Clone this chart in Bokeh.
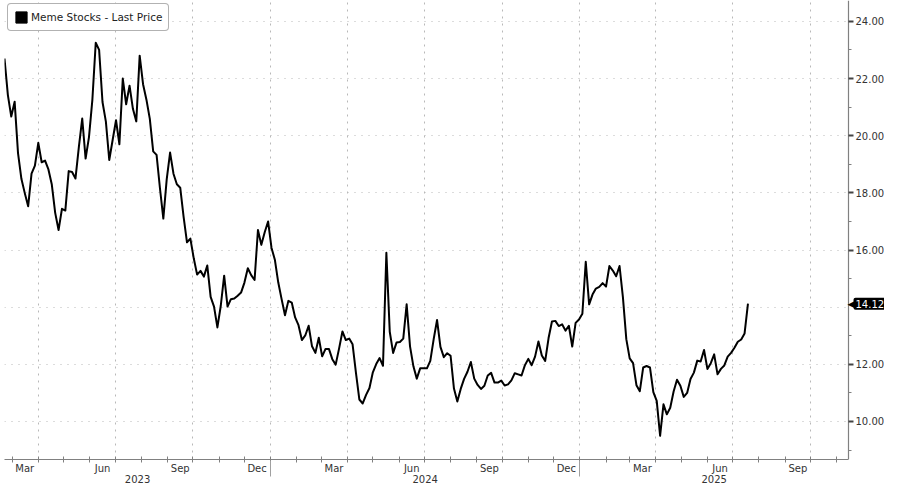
import pandas as pd
from bokeh.plotting import figure
from bokeh.models import (Range1d, LinearAxis, FixedTicker, CustomJSTickFormatter,
                          PrintfTickFormatter, Grid, Label, Legend, LegendItem,
                          BoxAnnotation)
from bokeh.embed import file_html
from bokeh.resources import INLINE

# ---------------- data ----------------
series_name = "Meme Stocks - Last Price"
start_date = "2023-02-20"
step = "4D"
prices = [
    22.70, 21.42, 20.67, 21.19, 19.39, 18.49, 17.99, 17.53, 18.67, 18.95,
    19.75, 19.07, 19.13, 18.82, 18.29, 17.30, 16.70, 17.44, 17.38, 18.76,
    18.73, 18.50, 19.60, 20.60, 19.20, 19.95, 21.25, 23.25, 23.00, 21.18,
    20.49, 19.15, 19.85, 20.54, 19.70, 22.00, 21.10, 21.75, 20.94, 20.50,
    22.80, 21.80, 21.26, 20.59, 19.45, 19.33, 18.16, 17.10, 18.47, 19.41,
    18.67, 18.30, 18.18, 17.16, 16.27, 16.40, 15.71, 15.14, 15.27, 15.07,
    15.46, 14.36, 14.02, 13.29, 14.05, 15.10, 14.02, 14.28, 14.30, 14.40,
    14.51, 14.86, 15.36, 15.12, 14.95, 16.70, 16.18, 16.62, 17.00, 16.08,
    15.66, 14.87, 14.28, 13.72, 14.22, 14.16, 13.64, 13.37, 12.85, 13.01,
    13.35, 12.63, 12.40, 12.93, 12.28, 12.54, 12.54, 12.18, 11.99, 12.55,
    13.15, 12.85, 12.90, 12.70, 11.70, 10.77, 10.63, 10.93, 11.17, 11.72,
    12.01, 12.22, 11.95, 15.90, 13.14, 12.40, 12.76, 12.78, 12.90, 14.10,
    12.63, 11.93, 11.50, 11.86, 11.86, 11.86, 12.12, 12.88, 13.55, 12.61,
    12.25, 12.39, 12.30, 11.15, 10.70, 11.14, 11.49, 11.74, 12.08, 11.50,
    11.28, 11.14, 11.25, 11.61, 11.70, 11.36, 11.36, 11.43, 11.26, 11.30,
    11.44, 11.69, 11.65, 11.61, 11.97, 12.19, 11.97, 12.27, 12.80, 12.31,
    12.12, 12.92, 13.50, 13.52, 13.34, 13.40, 13.18, 13.35, 12.62, 13.45,
    13.57, 13.77, 15.59, 14.10, 14.44, 14.65, 14.71, 14.84, 14.72, 15.44,
    15.28, 15.08, 15.44, 14.34, 12.88, 12.21, 12.04, 11.27, 11.06, 11.89,
    11.94, 11.89, 11.03, 10.72, 9.50, 10.60, 10.25, 10.48, 11.05, 11.46,
    11.25, 10.86, 11.00, 11.49, 11.71, 12.13, 12.10, 12.50, 11.84, 12.04,
    12.35, 11.65, 11.84, 11.96, 12.27, 12.40, 12.58, 12.79, 12.87, 13.08,
    14.12,
]
last_price_label = "14.12"

x_start = "2023-02-20"
x_axis_date = "2025-11-15"      # where the price axis sits
y_start, y_end = 8.67, 24.73
y_tick_values = [10, 12, 16, 18, 20, 22, 24]
y_minor_values = [9, 11, 13, 15, 17, 19, 21, 23]
y_grid_values = [10, 12, 14, 16, 18, 20, 22, 24]

month_label_dates = ["2023-03-16", "2023-06-16", "2023-09-16", "2023-12-16",
                     "2024-03-16", "2024-06-16", "2024-09-16", "2024-12-16",
                     "2025-03-16", "2025-06-16", "2025-09-16"]
month_labels = ["Mar", "Jun", "Sep", "Dec", "Mar", "Jun", "Sep", "Dec",
                "Mar", "Jun", "Sep"]
quarter_grid_dates = ["2023-04-01", "2023-07-01", "2023-10-01", "2024-01-01",
                      "2024-04-01", "2024-07-01", "2024-10-01", "2025-01-01",
                      "2025-04-01", "2025-07-01", "2025-10-01"]
years = [2023, 2024, 2025]
year_labels = ["2023", "2024", "2025"]


def ms(d):
    return int((pd.Timestamp(d) - pd.Timestamp("1970-01-01")) // pd.Timedelta("1ms"))


W, H = 884, 485
LEFT = 4                          # frame starts 4px in
AXIS_PX = 844                     # price-axis position measured from the frame's left edge
FRAME_W = W - LEFT

dates = pd.date_range(start_date, periods=len(prices), freq=step)
month_starts = [ms(d) for d in pd.date_range("2023-03-01", "2025-11-01", freq="MS")]
x0, x1 = ms(x_start), ms(x_axis_date)
x_view_end = x0 + (x1 - x0) * FRAME_W / AXIS_PX
year_centers = []
for y in years:
    lo = max(x0, ms(f"{y}-01-01"))
    hi = min(x1, ms(f"{y + 1}-01-01"))
    year_centers.append((lo + hi) // 2)
year_bounds = [ms(f"{y}-01-01") for y in years[1:]]
month_ticks = [ms(d) for d in month_label_dates]

AX = "#808080"
TXT = "#333333"
FONT = "DejaVu Sans"

p = figure(width=W, height=H, x_range=Range1d(x0, x_view_end),
           y_range=Range1d(y_start, y_end), x_axis_type=None, y_axis_type=None,
           output_backend="svg", toolbar_location=None,
           min_border_left=LEFT, min_border_top=0, min_border_right=0, min_border_bottom=0)
p.outline_line_color = None
p.background_fill_color = "white"
p.border_fill_color = "white"

# grids
p.add_layout(Grid(dimension=1, ticker=FixedTicker(ticks=y_grid_values),
                  grid_line_color="#b8b8b8", grid_line_dash="1 6", grid_line_width=1.2))
p.add_layout(Grid(dimension=0, ticker=FixedTicker(ticks=[ms(d) for d in quarter_grid_dates]),
                  grid_line_color="#b8b8b8", grid_line_dash="2 5", grid_line_width=1))
# keep grid lines from running past the price axis
p.add_layout(BoxAnnotation(left=x1, fill_color="white", fill_alpha=1,
                           line_color=None, level="underlay"))

# right price axis, fixed at the axis date
ya = LinearAxis(fixed_location=x1,
                ticker=FixedTicker(ticks=y_tick_values, minor_ticks=y_minor_values),
                formatter=PrintfTickFormatter(format="%.2f"))
ya.axis_line_color = AX
ya.axis_line_width = 1.2
ya.major_tick_line_color = "#444444"
ya.major_tick_line_width = 2
ya.major_tick_out = 5
ya.major_tick_in = 0
ya.minor_tick_line_color = AX
ya.minor_tick_out = 3
ya.minor_tick_in = 0
ya.major_label_standoff = 2
ya.major_label_text_font = FONT
ya.major_label_text_font_size = "10px"
ya.major_label_text_color = TXT
p.add_layout(ya, "right")

LOOKUP = """
let best = 0;
for (let i = 0; i < pos.length; i++) {
  if (Math.abs(pos[i] - tick) < Math.abs(pos[best] - tick)) best = i;
}
return txt[best];
"""

# bottom axis: months
xa = LinearAxis(ticker=FixedTicker(ticks=month_ticks, minor_ticks=month_starts),
                formatter=CustomJSTickFormatter(args=dict(pos=month_ticks, txt=month_labels),
                                                code=LOOKUP),
                bounds=(x0, x1))
xa.axis_line_color = AX
xa.axis_line_width = 1.2
xa.major_tick_line_color = None
xa.major_tick_out = 0
xa.major_tick_in = 0
xa.minor_tick_line_color = AX
xa.minor_tick_in = 3
xa.minor_tick_out = 3
xa.major_label_standoff = 0
xa.major_label_text_font = FONT
xa.major_label_text_font_size = "10px"
xa.major_label_text_color = TXT
p.add_layout(xa, "below")

# bottom axis: years
xb = LinearAxis(ticker=FixedTicker(ticks=year_centers, minor_ticks=year_bounds),
                formatter=CustomJSTickFormatter(args=dict(pos=year_centers, txt=year_labels),
                                                code=LOOKUP),
                bounds=(x0, x1))
xb.axis_line_color = None
xb.major_tick_line_color = None
xb.major_tick_out = 0
xb.major_tick_in = 0
xb.minor_tick_line_color = "#a0a0a0"
xb.minor_tick_in = 16
xb.minor_tick_out = 0
xb.major_label_standoff = -2
xb.major_label_text_font = FONT
xb.major_label_text_font_size = "10px"
xb.major_label_text_color = TXT
p.add_layout(xb, "below")

# series
p.line(dates, prices, line_color="black", line_width=2, line_join="round")

# legend
nan = float("nan")
swatch = p.quad(left=[nan], right=[nan], bottom=[nan], top=[nan],
                fill_color="black", line_color="black")
legend = Legend(items=[LegendItem(label=series_name, renderers=[swatch])],
                location="top_left", margin=3, padding=6, spacing=0,
                glyph_width=14, glyph_height=14, label_height=14, label_standoff=3,
                border_line_color="#666666", border_line_width=1.3,
                background_fill_color="white", background_fill_alpha=1,
                label_text_font=FONT, label_text_font_size="10.5px",
                label_text_color="#222222")
try:
    legend.border_radius = 4
except Exception:
    pass
p.add_layout(legend)

# last price tag
p.add_layout(Label(x=x1, y=prices[-1], x_offset=-1, text="\u25C0", text_color="black",
                   text_font=FONT, text_font_size="9px", text_baseline="middle",
                   text_align="left"))
p.add_layout(Label(x=x1, y=prices[-1], x_offset=5, text=last_price_label,
                   text_color="white", text_font=FONT, text_font_size="10px",
                   text_baseline="middle", text_align="left",
                   background_fill_color="black", padding=2, border_radius=2))

open("out.html", "w").write(file_html(p, INLINE))
